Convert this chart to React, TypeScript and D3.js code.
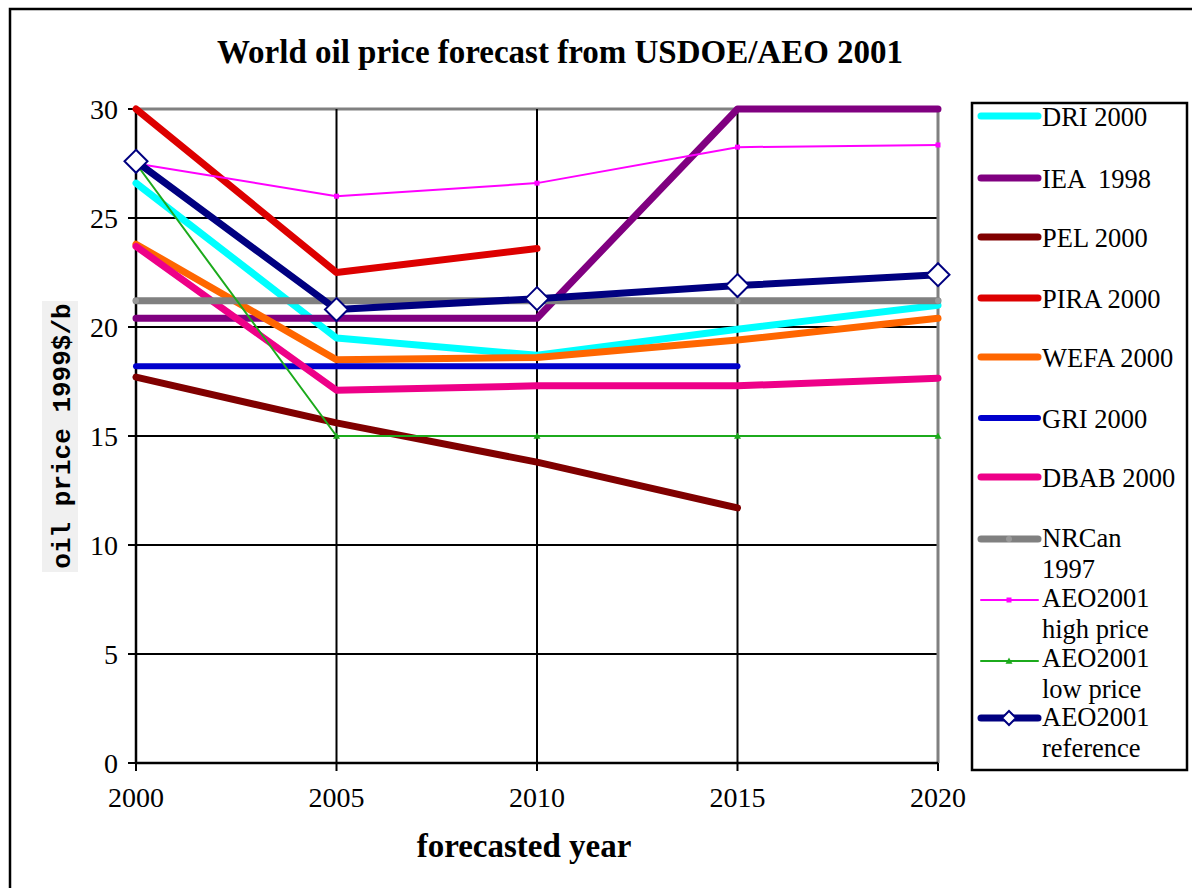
import React from 'react';
import * as d3 from 'd3';

const years = [2000, 2005, 2010, 2015, 2020];
const yTicks = [0, 5, 10, 15, 20, 25, 30];

const dri = [26.6, 19.5, 18.7, 19.9, 21.0];
const iea = [20.4, 20.4, 20.4, 30.0, 30.0];
const pel = [17.7, 15.6, 13.8, 11.7, null];
const pira = [30.0, 22.5, 23.6, null, null];
const wefa = [23.8, 18.5, 18.6, 19.4, 20.4];
const gri = [18.2, 18.2, 18.2, 18.2, null];
const dbab = [23.7, 17.1, 17.3, 17.3, 17.65];
const nrcan = [21.2, 21.2, 21.2, 21.2, 21.2];
const aeoHigh = [27.5, 26.0, 26.6, 28.25, 28.35];
const aeoLow = [27.5, 15.0, 15.0, 15.0, 15.0];
const aeoRef = [27.6, 20.8, 21.3, 21.9, 22.4];

const seriesNames = [
  ['DRI 2000'],
  ['IEA  1998'],
  ['PEL 2000'],
  ['PIRA 2000'],
  ['WEFA 2000'],
  ['GRI 2000'],
  ['DBAB 2000'],
  ['NRCan', '1997'],
  ['AEO2001', 'high price'],
  ['AEO2001', 'low price'],
  ['AEO2001', 'reference'],
];

const seriesData: (number | null)[][] = [dri, iea, pel, pira, wefa, gri, dbab, nrcan, aeoHigh, aeoLow, aeoRef];
const seriesColors = ['#00FFFF', '#800080', '#800000', '#DD0000', '#FF6600', '#0000CC', '#EE0088', '#808080', '#FF00FF', '#1CAA1C', '#000080'];
const seriesWidths = [7, 7, 7, 7, 7, 6, 7, 7, 2, 2, 7];
const seriesMarkers = ['none', 'none', 'none', 'none', 'none', 'none', 'none', 'circle', 'square', 'triangle', 'diamond'];
const legendY = [116, 178, 237, 298, 357, 418, 477, 539, 600, 661, 718];
const legendTextOffset = [10, 10, 10, 10, 10, 10, 10, 8, 7, 6, 8];

const serif = '"Liberation Serif", "Times New Roman", serif';

export default function App() {
  const x = d3.scaleLinear().domain([2000, 2020]).range([136, 938]);
  const y = d3.scaleLinear().domain([0, 30]).range([763, 109]);

  const line = d3
    .line<number | null>()
    .defined((d) => d !== null)
    .x((_, i) => x(years[i]))
    .y((d) => y(d as number));

  const marker = (kind: string, cx: number, cy: number, color: string, big: boolean, key: string) => {
    if (kind === 'circle') {
      return <circle key={key} cx={cx} cy={cy} r={3} fill="#999999" />;
    }
    if (kind === 'square') {
      return <rect key={key} x={cx - 2.5} y={cy - 2.5} width={5} height={5} fill={color} />;
    }
    if (kind === 'triangle') {
      const s = 3.5;
      return <path key={key} d={`M${cx},${cy - s}L${cx + s},${cy + s * 0.8}L${cx - s},${cy + s * 0.8}Z`} fill={color} />;
    }
    if (kind === 'diamond') {
      const s = big ? 11.5 : 7;
      return (
        <path
          key={key}
          d={`M${cx},${cy - s}L${cx + s},${cy}L${cx},${cy + s}L${cx - s},${cy}Z`}
          fill="#fff"
          stroke={color}
          strokeWidth={2}
        />
      );
    }
    return null;
  };

  return (
    <svg
      width={1192}
      height={888}
      style={{ position: 'absolute', left: 0, top: 0, background: '#fff' }}
      fontFamily={serif}
    >
      <rect x={0} y={0} width={1192} height={888} fill="#fff" />
      {/* outer chart border */}
      <rect x={10} y={9} width={1300} height={1000} fill="none" stroke="#000" strokeWidth={2.5} />

      {/* title */}
      <text x={560} y={63} textAnchor="middle" fontSize={33} fontWeight="bold" fill="#000">
        World oil price forecast from USDOE/AEO 2001
      </text>

      {/* horizontal gridlines */}
      {yTicks.filter((t) => t > 0 && t < 30).map((t) => (
        <line key={'hg' + t} x1={x(2000)} x2={x(2020)} y1={y(t)} y2={y(t)} stroke="#000" strokeWidth={2} />
      ))}
      <line x1={x(2000)} x2={x(2020)} y1={y(30)} y2={y(30)} stroke="#808080" strokeWidth={3} />
      {/* vertical gridlines */}
      {years.filter((yr) => yr > 2000 && yr < 2020).map((yr) => (
        <line key={'vg' + yr} x1={x(yr)} x2={x(yr)} y1={y(0)} y2={y(30)} stroke="#000" strokeWidth={2} />
      ))}
      <line x1={x(2020)} x2={x(2020)} y1={y(0)} y2={y(30)} stroke="#808080" strokeWidth={3} />

      {/* axes */}
      <line x1={x(2000)} x2={x(2000)} y1={y(0)} y2={y(30)} stroke="#000" strokeWidth={2.5} />
      <line x1={x(2000)} x2={x(2020)} y1={y(0)} y2={y(0)} stroke="#000" strokeWidth={2.5} />
      {yTicks.map((t) => (
        <g key={'yt' + t}>
          <line x1={x(2000) - 8} x2={x(2000)} y1={y(t)} y2={y(t)} stroke="#000" strokeWidth={2} />
          <text x={118} y={y(t)} dy="0.35em" textAnchor="end" fontSize={28} fill="#000">
            {t}
          </text>
        </g>
      ))}
      {years.map((yr) => (
        <g key={'xt' + yr}>
          <line x1={x(yr)} x2={x(yr)} y1={y(0)} y2={y(0) + 8} stroke="#000" strokeWidth={2} />
          <text x={x(yr)} y={807} textAnchor="middle" fontSize={28} fill="#000">
            {yr}
          </text>
        </g>
      ))}

      {/* axis titles */}
      <text x={524} y={857} textAnchor="middle" fontSize={33} fontWeight="bold" fill="#000">
        forecasted year
      </text>
      <rect x={42} y={301} width={36} height={271} fill="#F0F0F0" />
      <text
        transform="translate(70,436) rotate(-90)"
        textAnchor="middle"
        fontSize={26}
        fontWeight="bold"
        fontFamily='"Liberation Mono", "Courier New", monospace'
        fill="#000"
      >
        oil price 1999$/b
      </text>

      {/* series */}
      {seriesData.map((data, si) => (
        <g key={'s' + si}>
          <path
            d={line(data) || ''}
            fill="none"
            stroke={seriesColors[si]}
            strokeWidth={seriesWidths[si]}
            strokeLinecap="round"
            strokeLinejoin="round"
          />
          {data.map((d, i) =>
            d === null ? null : marker(seriesMarkers[si], x(years[i]), y(d), seriesColors[si], true, `m${si}-${i}`)
          )}
        </g>
      ))}

      {/* legend */}
      <rect x={972} y={103} width={215} height={667} fill="#fff" stroke="#000" strokeWidth={2.5} />
      {seriesNames.map((names, si) => {
        const ly = legendY[si];
        return (
          <g key={'lg' + si}>
            <line
              x1={981}
              x2={1038}
              y1={ly}
              y2={ly}
              stroke={seriesColors[si]}
              strokeWidth={seriesWidths[si]}
              strokeLinecap="round"
            />
            {marker(seriesMarkers[si], 1009, ly, seriesColors[si], false, 'lm' + si)}
            <text x={1042} y={ly + legendTextOffset[si]} fontSize={26.5} fill="#000" style={{ whiteSpace: 'pre' }}>
              {names.map((n, j) => (
                <tspan key={j} x={1042} dy={j === 0 ? 0 : 30.5}>
                  {n}
                </tspan>
              ))}
            </text>
          </g>
        );
      })}
    </svg>
  );
}
